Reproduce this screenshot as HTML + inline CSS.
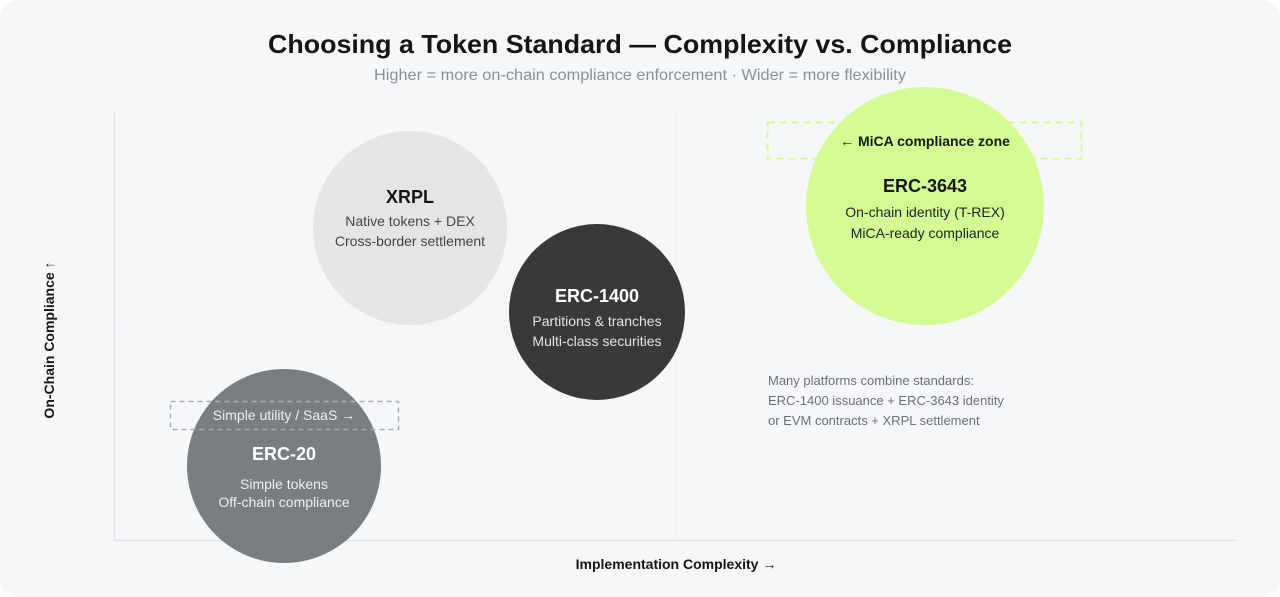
<!DOCTYPE html>
<html><head><meta charset="utf-8"><style>
html,body{margin:0;padding:0;background:#fff;width:1280px;height:597px;overflow:hidden}
</style></head><body>
<svg width="1280" height="597" viewBox="0 0 1280 597" xmlns="http://www.w3.org/2000/svg" font-family="Liberation Sans, sans-serif">
<rect x="0" y="0" width="1280" height="597" rx="18" fill="#f6f7f9"/>
<text x="640" y="53" text-anchor="middle" font-size="26" font-weight="bold" fill="#151515" textLength="744" lengthAdjust="spacingAndGlyphs">Choosing a Token Standard — Complexity vs. Compliance</text>
<text x="640" y="80" text-anchor="middle" font-size="16" fill="#8a8f9a" textLength="532" lengthAdjust="spacingAndGlyphs">Higher = more on-chain compliance enforcement · Wider = more flexibility</text>
<line x1="114.5" y1="113" x2="114.5" y2="540" stroke="#e2e4e8" stroke-width="1.5"/>
<line x1="114" y1="540.5" x2="1237" y2="540.5" stroke="#e2e4e8" stroke-width="1.5"/>
<line x1="115" y1="325" x2="1237" y2="325" stroke="#eceef1" stroke-dasharray="4 4"/>
<line x1="676" y1="113" x2="676" y2="540" stroke="#eceef1" stroke-dasharray="4 4"/>
<circle cx="410" cy="228" r="97" fill="#e5e5e5"/>
<text x="410" y="203" text-anchor="middle" font-size="18" font-weight="bold" fill="#151515">XRPL</text>
<text x="410" y="226" text-anchor="middle" font-size="14" fill="#444">Native tokens + DEX</text>
<text x="410" y="246" text-anchor="middle" font-size="14" fill="#444">Cross-border settlement</text>
<circle cx="597" cy="312" r="88" fill="#383938"/>
<text x="597" y="302" text-anchor="middle" font-size="18" font-weight="bold" fill="#fff">ERC-1400</text>
<text x="597" y="326" text-anchor="middle" font-size="14" fill="#e4e4e4">Partitions &amp; tranches</text>
<text x="597" y="346" text-anchor="middle" font-size="14" fill="#e4e4e4">Multi-class securities</text>
<circle cx="925" cy="206" r="119" fill="#d4fb93"/>
<rect x="767.5" y="122.5" width="314" height="36" fill="none" stroke="#d4fb93" stroke-width="2" stroke-dasharray="7 5"/>
<text x="925" y="146" text-anchor="middle" font-size="14" font-weight="bold" fill="#151515">← MiCA compliance zone</text>
<text x="925" y="192" text-anchor="middle" font-size="18" font-weight="bold" fill="#151515">ERC-3643</text>
<text x="925" y="217" text-anchor="middle" font-size="14" fill="#222">On-chain identity (T-REX)</text>
<text x="925" y="238" text-anchor="middle" font-size="14" fill="#222">MiCA-ready compliance</text>
<circle cx="284" cy="466" r="97" fill="#797e80"/>
<rect x="170.5" y="401.5" width="228" height="28" fill="none" stroke="#a6afc2" stroke-width="1.5" stroke-dasharray="5 4"/>
<text x="284" y="420" text-anchor="middle" font-size="14" fill="#f0f0f0">Simple utility / SaaS →</text>
<text x="284" y="460" text-anchor="middle" font-size="18" font-weight="bold" fill="#fff">ERC-20</text>
<text x="284" y="489" text-anchor="middle" font-size="14" fill="#f0f0f0">Simple tokens</text>
<text x="284" y="507" text-anchor="middle" font-size="14" fill="#f0f0f0">Off-chain compliance</text>
<text x="768" y="385" font-size="13" fill="#6b6f78">Many platforms combine standards:</text>
<text x="768" y="405" font-size="13" fill="#6b6f78">ERC-1400 issuance + ERC-3643 identity</text>
<text x="768" y="425" font-size="13" fill="#6b6f78">or EVM contracts + XRPL settlement</text>
<text x="676" y="569" text-anchor="middle" font-size="14" font-weight="bold" fill="#151515">Implementation Complexity →</text>
<text transform="translate(54,340) rotate(-90)" text-anchor="middle" font-size="14" font-weight="bold" fill="#151515">On-Chain Compliance ↑</text>
</svg>
</body></html>
